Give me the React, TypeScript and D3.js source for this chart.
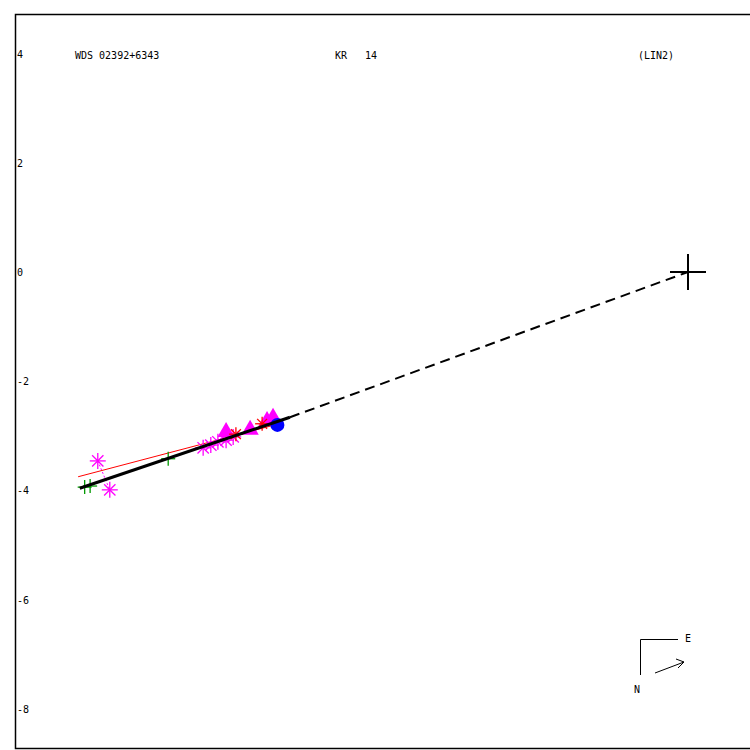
import { useEffect, useRef } from "react";
import * as d3 from "d3";

// Relative positions (arcsec), primary at origin
const greenPlus: [number, number][] = [
  [-11.05, -3.94],
  [-10.95, -3.92],
  [-9.52, -3.42],
];
const magentaStars: [number, number][] = [
  [-10.81, -3.46],
  [-10.59, -3.99],
  [-8.88, -3.22],
  [-8.74, -3.17],
  [-8.61, -3.11],
  [-8.46, -3.08],
  [-8.33, -3.02],
];
const magentaTriangles: [number, number][] = [
  [-8.46, -2.93],
  [-8.02, -2.89],
  [-7.71, -2.73],
  [-7.6, -2.67],
];
const redStars: [number, number][] = [
  [-8.28, -2.97],
  [-7.8, -2.78],
];
const blueCircles: [number, number][] = [[-7.52, -2.8]];

// Fitted linear motion and alternate (red) solution
const fitLine: [number, number][] = [
  [-11.14, -3.96],
  [-7.29, -2.66],
];
const redLine: [number, number][] = [
  [-11.17, -3.75],
  [-7.45, -2.77],
];
const yTicks = [4, 2, 0, -2, -4, -6, -8];

export default function App() {
  const svgRef = useRef<SVGSVGElement>(null);
  const width = 750;
  const height = 750;

  useEffect(() => {
    if (!svgRef.current) return;
    const svg = d3.select(svgRef.current);
    svg.selectAll("*").remove();

    const pxPerUnit = 54.6;
    const xScale = d3.scaleLinear().domain([0, 1]).range([688, 688 + pxPerUnit]);
    const yScale = d3.scaleLinear().domain([0, 1]).range([272, 272 - pxPerUnit]);

    const font = "'DejaVu Sans Mono', monospace";

    // Frame
    svg
      .append("path")
      .attr("d", `M 760 14.5 L 15.5 14.5 L 15.5 748.5 L 760 748.5`)
      .attr("fill", "none")
      .attr("stroke", "#000")
      .attr("stroke-width", 1.5);

    // Y tick labels
    svg
      .selectAll("text.ytick")
      .data(yTicks)
      .enter()
      .append("text")
      .attr("class", "ytick")
      .attr("x", 17)
      .attr("y", (d) => yScale(d) + 4)
      .attr("font-family", font)
      .attr("font-size", 10)
      .attr("fill", "#000")
      .text((d) => (d < 0 ? `-${Math.abs(d)}` : `${d}`));

    // Header texts
    const header = [
      { x: 75, t: "WDS 02392+6343" },
      { x: 335, t: "KR   14" },
      { x: 638, t: "(LIN2)" },
    ];
    svg
      .selectAll("text.hdr")
      .data(header)
      .enter()
      .append("text")
      .attr("class", "hdr")
      .attr("x", (d) => d.x)
      .attr("y", 59)
      .attr("font-family", font)
      .attr("font-size", 10)
      .attr("fill", "#000")
      .style("white-space", "pre")
      .text((d) => d.t);

    const line = d3
      .line<[number, number]>()
      .x((d) => xScale(d[0]))
      .y((d) => yScale(d[1]));

    // Dashed line from end of fit to primary
    svg
      .append("path")
      .attr("d", line([fitLine[1], [0, 0]]))
      .attr("fill", "none")
      .attr("stroke", "#000")
      .attr("stroke-width", 2)
      .attr("stroke-dasharray", "10,6");

    // Residual (dotted) line between outlying magenta stars
    svg
      .append("path")
      .attr("d", line([magentaStars[0], magentaStars[1]]))
      .attr("fill", "none")
      .attr("stroke", "#ff00ff")
      .attr("stroke-width", 1)
      .attr("stroke-dasharray", "2,2");

    // Red alternate line
    svg
      .append("path")
      .attr("d", line(redLine))
      .attr("fill", "none")
      .attr("stroke", "#ff0000")
      .attr("stroke-width", 1);

    // Asterisk marker
    const asterisk = (g: d3.Selection<SVGGElement, unknown, null, undefined>, cx: number, cy: number, r: number, color: string) => {
      for (let i = 0; i < 4; i++) {
        const a = (i * Math.PI) / 4;
        g.append("line")
          .attr("x1", cx - r * Math.cos(a))
          .attr("y1", cy - r * Math.sin(a))
          .attr("x2", cx + r * Math.cos(a))
          .attr("y2", cy + r * Math.sin(a))
          .attr("stroke", color)
          .attr("stroke-width", 1.3);
      }
    };

    const marks = svg.append("g");

    // Magenta triangles
    const tri = d3.symbol().type(d3.symbolTriangle).size(130);
    marks
      .selectAll("path.tri")
      .data(magentaTriangles)
      .enter()
      .append("path")
      .attr("class", "tri")
      .attr("transform", (d) => `translate(${xScale(d[0])},${yScale(d[1])})`)
      .attr("d", tri)
      .attr("fill", "#ff00ff");

    // Blue circle
    marks
      .selectAll("circle.blue")
      .data(blueCircles)
      .enter()
      .append("circle")
      .attr("class", "blue")
      .attr("cx", (d) => xScale(d[0]))
      .attr("cy", (d) => yScale(d[1]))
      .attr("r", 7)
      .attr("fill", "#0000ff");

    // Magenta asterisks
    magentaStars.forEach((d) => asterisk(marks, xScale(d[0]), yScale(d[1]), 8, "#ff00ff"));

    // Red stars
    redStars.forEach((d) => asterisk(marks, xScale(d[0]), yScale(d[1]), 7, "#ff0000"));

    // Green pluses
    greenPlus.forEach((d) => {
      const cx = xScale(d[0]);
      const cy = yScale(d[1]);
      marks.append("line").attr("x1", cx - 7).attr("x2", cx + 7).attr("y1", cy).attr("y2", cy).attr("stroke", "#009900").attr("stroke-width", 1.3);
      marks.append("line").attr("x1", cx).attr("x2", cx).attr("y1", cy - 7).attr("y2", cy + 7).attr("stroke", "#009900").attr("stroke-width", 1.3);
    });

    // Solid fit line on top
    svg
      .append("path")
      .attr("d", line(fitLine))
      .attr("fill", "none")
      .attr("stroke", "#000")
      .attr("stroke-width", 3);

    // Primary cross
    const px = xScale(0);
    const py = yScale(0);
    svg.append("line").attr("x1", px - 18).attr("x2", px + 18).attr("y1", py).attr("y2", py).attr("stroke", "#000").attr("stroke-width", 2);
    svg.append("line").attr("x1", px).attr("x2", px).attr("y1", py - 18).attr("y2", py + 18).attr("stroke", "#000").attr("stroke-width", 2);

    // Compass
    svg
      .append("path")
      .attr("d", "M 640.5 675 L 640.5 639.5 L 678 639.5")
      .attr("fill", "none")
      .attr("stroke", "#000")
      .attr("stroke-width", 1);
    svg.append("text").attr("x", 685).attr("y", 642).attr("font-family", font).attr("font-size", 10).attr("fill", "#000").text("E");
    svg.append("text").attr("x", 634).attr("y", 693).attr("font-family", font).attr("font-size", 10).attr("fill", "#000").text("N");
    svg
      .append("path")
      .attr("d", "M 655 673 L 684 662 M 676 659 L 684 662 L 678 668")
      .attr("fill", "none")
      .attr("stroke", "#000")
      .attr("stroke-width", 1);
  }, []);

  return (
    <div style={{ position: "absolute", left: 0, top: 0, width, height, background: "#fff" }}>
      <svg ref={svgRef} width={width} height={height} viewBox={`0 0 ${width} ${height}`} />
    </div>
  );
}
